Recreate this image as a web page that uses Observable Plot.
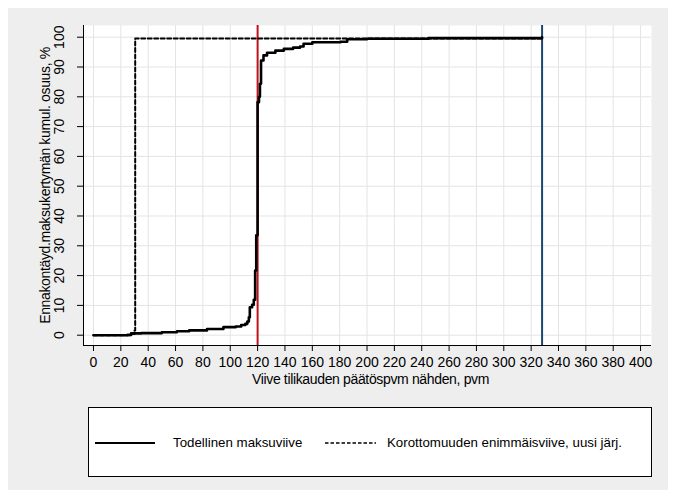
<!DOCTYPE html>
<html>
<head>
<meta charset="utf-8">
<script src="https://cdn.jsdelivr.net/npm/d3@7"></script>
<script src="https://cdn.jsdelivr.net/npm/@observablehq/plot@0.6"></script>
<style>
  body { margin: 0; background: #fff; font-family: "Liberation Sans", Arial, sans-serif; }
  #wrap { position: relative; width: 677px; height: 498px; background: #fff; overflow: hidden; }
  #panel { position: absolute; left: 8px; top: 8px; width: 660px; height: 482px; background: #eeeeee; }
  #chart { position: absolute; left: 0; top: 0; }
  #chart svg g[aria-label="text"] text { letter-spacing: -0.35px; }
  #legend { position: absolute; left: 88px; top: 407px; width: 562px; height: 68px; border: 1px solid #000; background: #fff; }
  .lg { position: absolute; font-size: 13.3px; color: #000; line-height: 16px; white-space: nowrap; }
</style>
</head>
<body>
<div id="wrap">
  <div id="panel"></div>
  <div id="chart"></div>
  <div id="legend">
    <svg width="562" height="68" style="position:absolute;left:0;top:0">
      <line x1="6" x2="66" y1="35" y2="35" stroke="#000" stroke-width="2.2"></line>
      <line x1="236" x2="287" y1="35" y2="35" stroke="#000" stroke-width="1.6" stroke-dasharray="3.5,2"></line>
    </svg>
    <span class="lg" id="lg1" style="left:84px;top:27px"></span>
    <span class="lg" id="lg2" style="left:298px;top:27px"></span>
  </div>
</div>
<script>
// ---- data ----
const actualDays = [0, 25, 27.5, 35, 40, 50, 61, 70, 83, 95, 104, 108, 111, 112.5, 113.6, 114.3, 116, 117.2, 118.2, 119, 120, 121, 121.7, 122.5, 124.3, 126.9, 133, 139.2, 146, 151, 153.6, 160, 180.6, 185.5, 200, 245, 328];
const actualShare = [0, 0.1, 0.6, 0.7, 0.7, 1.0, 1.3, 1.6, 2.1, 2.7, 2.9, 3.4, 3.8, 4.6, 6.0, 9.4, 10.2, 11.9, 21.7, 33.5, 78.2, 80.0, 84.4, 92.2, 93.9, 94.8, 95.5, 96.1, 96.5, 96.9, 97.8, 98.3, 98.5, 99.3, 99.5, 99.7, 100];
const maxDays = [0, 27.5, 30, 30.5, 328];
const maxShare = [0, 0.4, 1.6, 99.6, 100];
const refLineRed = [120];
const refLineBlue = [328];
const xTicks = d3.range(0, 401, 20);
const yTicks = d3.range(0, 101, 10);
const xTitle = "Viive tilikauden päätöspvm nähden, pvm";
const yTitle = "Ennakontäyd.maksukertymän kumul. osuus, %";
const legendLabels = ["Todellinen maksuviive", "Korottomuuden enimmäisviive, uusi järj."];

const actual = actualDays.map((d, i) => ({x: d, y: actualShare[i]}));
const maxDelay = maxDays.map((d, i) => ({x: d, y: maxShare[i]}));

const xMin = -7.3, xMax = 408, yMin = -3.46, yMax = 103.93;

const chart = Plot.plot({
  width: 677,
  height: 400,
  marginLeft: 83,
  marginRight: 26,
  marginTop: 25,
  marginBottom: 55,
  style: {background: "transparent", fontFamily: "'Liberation Sans', Arial, sans-serif", fontSize: "14px", color: "#000"},
  x: {domain: [xMin, xMax], label: null},
  y: {domain: [yMin, yMax], label: null},
  marks: [
    Plot.frame({fill: "#fff", stroke: null}),
    Plot.ruleX(xTicks, {stroke: "#e4e4e4", strokeWidth: 1}),
    Plot.ruleY(yTicks, {stroke: "#e4e4e4", strokeWidth: 1}),
    Plot.ruleX(refLineRed, {stroke: "#c1121c", strokeWidth: 2}),
    Plot.ruleX(refLineBlue, {stroke: "#1a476f", strokeWidth: 2}),
    Plot.line(maxDelay, {x: "x", y: "y", curve: "step-after", stroke: "#000", strokeWidth: 2, strokeDasharray: "4,2.5"}),
    Plot.line(actual, {x: "x", y: "y", curve: "step-after", stroke: "#000", strokeWidth: 2.6}),
    Plot.ruleY([yMin], {stroke: "#000", strokeWidth: 1}),
    Plot.ruleX([xMin], {stroke: "#000", strokeWidth: 1}),
    Plot.axisX({ticks: xTicks, tickSize: 6, tickPadding: 6, fontSize: 14, label: null, stroke: "#000"}),
    Plot.axisY({ticks: yTicks, tickSize: 6, tickPadding: 14, tickRotate: -90, textAnchor: "middle", fontSize: 14, label: null, stroke: "#000"}),
    Plot.text([xTitle], {text: d => d, frameAnchor: "bottom", dy: 38, dx: 3, fontSize: 14, fill: "#000"}),
    Plot.text([yTitle], {text: d => d, frameAnchor: "left", textAnchor: "middle", dx: -38, rotate: -90, fontSize: 14, fill: "#000"})
  ]
});
document.getElementById("chart").appendChild(chart);
document.getElementById("lg1").textContent = legendLabels[0];
document.getElementById("lg2").textContent = legendLabels[1];
</script>
</body>
</html>
